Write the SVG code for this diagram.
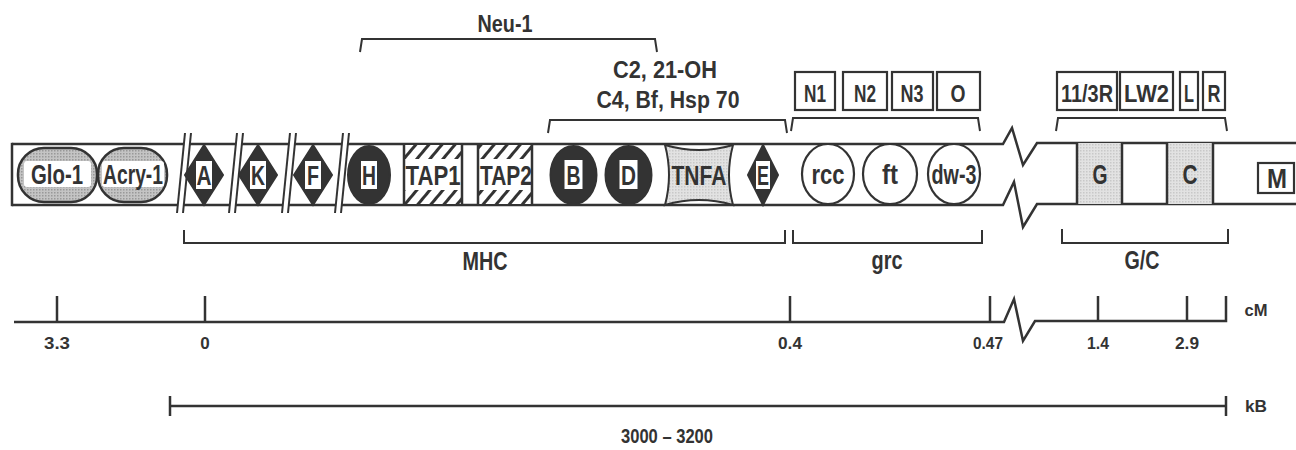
<svg xmlns="http://www.w3.org/2000/svg" width="1296" height="450" viewBox="0 0 1296 450">
<defs>
<pattern id="hatch" width="10" height="10" patternUnits="userSpaceOnUse" patternTransform="rotate(40)">
<rect width="10" height="10" fill="#fff"/>
<rect x="0" y="0" width="3" height="10" fill="#333"/>
</pattern>
<pattern id="dots" width="3" height="3" patternUnits="userSpaceOnUse">
<rect width="3" height="3" fill="#c4c4c4"/>
<rect x="0" y="0" width="1.5" height="1.5" fill="#999"/>
</pattern>
<pattern id="ldots" width="3" height="3" patternUnits="userSpaceOnUse">
<rect width="3" height="3" fill="#e2e2e2"/>
<rect x="0" y="0" width="1.5" height="1.5" fill="#c8c8c8"/>
</pattern>
</defs>
<style>
text{font-family:"Liberation Sans",Arial,sans-serif;font-weight:bold;fill:#333;text-anchor:middle}
.nl{font-size:28px}
.bl{font-size:24px}
.ul{font-size:23px}
.sl{font-size:17px}
.ln{fill:none;stroke:#333;stroke-width:2.5;stroke-linejoin:miter}
.br{fill:none;stroke:#333;stroke-width:2}
.dk{fill:#333;stroke:#333;stroke-width:2}
.wb{fill:#fff;stroke:none}
.ob{fill:#fff;stroke:#333;stroke-width:2.2}
</style>
<rect width="1296" height="450" fill="#fff"/>

<g id="chromosome">
<path class="ln" d="M12,144 L1003,144 L1012,128 L1023,165 L1037,143 L1296,143"/>
<path class="ln" d="M12,205 L1003,205 L1014,182 L1023,227 L1037,204 L1296,204"/>
<line class="ln" x1="12" y1="142.8" x2="12" y2="206.2"/>
</g>

<g id="glo1">
<rect x="18" y="148" width="79" height="54" rx="26" fill="url(#dots)" stroke="#333" stroke-width="2.5"/>
<rect class="wb" x="24" y="161" width="67" height="26" rx="3"/>
<text class="nl" x="57" y="184" textLength="52" lengthAdjust="spacingAndGlyphs">Glo-1</text>
</g>
<g id="acry1">
<rect x="98" y="148" width="69" height="54" rx="26" fill="url(#dots)" stroke="#333" stroke-width="2.5"/>
<rect class="wb" x="102" y="161" width="62" height="26" rx="3"/>
<text class="nl" x="133" y="184" textLength="60" lengthAdjust="spacingAndGlyphs">Acry-1</text>
</g>

<g id="breaks">
<polygon class="wb" points="177,213 185,133 191,133 183,213"/>
<line class="br" x1="177" y1="213" x2="185" y2="133"/>
<line class="br" x1="183" y1="213" x2="191" y2="133"/>
<polygon class="wb" points="229,213 237,133 243,133 235,213"/>
<line class="br" x1="229" y1="213" x2="237" y2="133"/>
<line class="br" x1="235" y1="213" x2="243" y2="133"/>
<polygon class="wb" points="282,213 290,133 296,133 288,213"/>
<line class="br" x1="282" y1="213" x2="290" y2="133"/>
<line class="br" x1="288" y1="213" x2="296" y2="133"/>
<polygon class="wb" points="335,213 343,133 349,133 341,213"/>
<line class="br" x1="335" y1="213" x2="343" y2="133"/>
<line class="br" x1="341" y1="213" x2="349" y2="133"/>
</g>

<g id="nodeA">
<polygon class="dk" points="204,145 223,175 204,205 185,175"/>
<rect class="wb" x="196" y="161" width="16" height="28"/>
<text class="nl" x="204" y="185" textLength="15" lengthAdjust="spacingAndGlyphs">A</text>
</g>
<g id="nodeK">
<polygon class="dk" points="258,145 277,175 258,205 239,175"/>
<rect class="wb" x="250" y="161" width="16" height="28"/>
<text class="nl" x="258" y="185" textLength="14" lengthAdjust="spacingAndGlyphs">K</text>
</g>
<g id="nodeF">
<polygon class="dk" points="313,145 332,175 313,205 294,175"/>
<rect class="wb" x="305" y="161" width="16" height="28"/>
<text class="nl" x="313" y="185" textLength="12" lengthAdjust="spacingAndGlyphs">F</text>
</g>
<g id="nodeH">
<ellipse class="dk" cx="369" cy="175" rx="21" ry="29"/>
<rect class="wb" x="361" y="161" width="16" height="28"/>
<text class="nl" x="369" y="185" textLength="14" lengthAdjust="spacingAndGlyphs">H</text>
</g>

<g id="tap1">
<rect x="404" y="145" width="58" height="59" fill="url(#hatch)"/>
<rect class="wb" x="404" y="159" width="58" height="31"/>
<line class="ln" x1="404" y1="144" x2="404" y2="205"/>
<line class="ln" x1="462" y1="144" x2="462" y2="205"/>
<text class="nl" x="433" y="185" textLength="55" lengthAdjust="spacingAndGlyphs">TAP1</text>
</g>
<g id="tap2">
<rect x="478" y="145" width="54" height="59" fill="url(#hatch)"/>
<rect class="wb" x="478" y="159" width="54" height="31"/>
<line class="ln" x1="478" y1="144" x2="478" y2="205"/>
<line class="ln" x1="532" y1="144" x2="532" y2="205"/>
<text class="nl" x="506" y="185" textLength="52" lengthAdjust="spacingAndGlyphs">TAP2</text>
</g>

<g id="nodeB">
<ellipse class="dk" cx="573.5" cy="175" rx="23" ry="29"/>
<rect class="wb" x="564.5" y="160" width="18" height="29"/>
<text class="nl" x="573.5" y="185" textLength="14" lengthAdjust="spacingAndGlyphs">B</text>
</g>
<g id="nodeD">
<ellipse class="dk" cx="628.5" cy="175" rx="23" ry="29"/>
<rect class="wb" x="619.5" y="160" width="18" height="29"/>
<text class="nl" x="628.5" y="185" textLength="15" lengthAdjust="spacingAndGlyphs">D</text>
</g>

<g id="tnfa">
<path d="M665,145 Q699,155 733,145 Q725,175 733,205 Q699,195 665,205 Q673,175 665,145 Z" fill="url(#ldots)" stroke="#333" stroke-width="2"/>
<text class="nl" x="699" y="185" textLength="55" lengthAdjust="spacingAndGlyphs">TNFA</text>
</g>

<g id="nodeE">
<polygon class="dk" points="763,145 778,175 763,205 748,175"/>
<rect class="wb" x="756" y="161" width="14" height="28"/>
<text class="nl" x="763" y="185" textLength="12" lengthAdjust="spacingAndGlyphs">E</text>
</g>

<g id="rcc">
<ellipse class="ob" cx="828" cy="174" rx="26" ry="30"/>
<text class="nl" x="828" y="184" textLength="33" lengthAdjust="spacingAndGlyphs">rcc</text>
</g>
<g id="ft">
<ellipse class="ob" cx="890" cy="174" rx="27" ry="30"/>
<text class="nl" x="890" y="184" textLength="16" lengthAdjust="spacingAndGlyphs">ft</text>
</g>
<g id="dw3">
<ellipse class="ob" cx="954" cy="174" rx="26" ry="30"/>
<text class="nl" x="954" y="184" textLength="45" lengthAdjust="spacingAndGlyphs">dw-3</text>
</g>

<g id="nodeG">
<rect x="1077" y="143" width="45" height="61" fill="url(#ldots)"/>
<line class="ln" x1="1077" y1="143" x2="1077" y2="204"/>
<line class="ln" x1="1122" y1="143" x2="1122" y2="204"/>
<text class="nl" x="1100" y="184" textLength="15" lengthAdjust="spacingAndGlyphs">G</text>
</g>
<g id="nodeC">
<rect x="1167" y="143" width="46" height="61" fill="url(#ldots)"/>
<line class="ln" x1="1167" y1="143" x2="1167" y2="204"/>
<line class="ln" x1="1213" y1="143" x2="1213" y2="204"/>
<text class="nl" x="1190" y="184" textLength="15" lengthAdjust="spacingAndGlyphs">C</text>
</g>
<g id="nodeM">
<rect class="ob" x="1258" y="163" width="36" height="30"/>
<text class="nl" x="1277" y="188" textLength="20" lengthAdjust="spacingAndGlyphs">M</text>
</g>

<g id="boxN1"><rect class="ob" x="795" y="72" width="40" height="38"/><text class="bl" x="815" y="102" textLength="22" lengthAdjust="spacingAndGlyphs">N1</text></g>
<g id="boxN2"><rect class="ob" x="843" y="72" width="44" height="38"/><text class="bl" x="865" y="102" textLength="22" lengthAdjust="spacingAndGlyphs">N2</text></g>
<g id="boxN3"><rect class="ob" x="892" y="72" width="41" height="38"/><text class="bl" x="912" y="102" textLength="23" lengthAdjust="spacingAndGlyphs">N3</text></g>
<g id="boxO"><rect class="ob" x="937" y="72" width="43" height="38"/><text class="bl" x="958" y="102" textLength="15" lengthAdjust="spacingAndGlyphs">O</text></g>
<g id="box113R"><rect class="ob" x="1057" y="72" width="60" height="38"/><text class="bl" x="1087" y="102" textLength="52" lengthAdjust="spacingAndGlyphs">11/3R</text></g>
<g id="boxLW2"><rect class="ob" x="1120" y="72" width="53" height="38"/><text class="bl" x="1146.5" y="102" textLength="45" lengthAdjust="spacingAndGlyphs">LW2</text></g>
<g id="boxL"><rect class="ob" x="1180" y="72" width="18" height="38"/><text class="bl" x="1189" y="102" textLength="10" lengthAdjust="spacingAndGlyphs">L</text></g>
<g id="boxR"><rect class="ob" x="1203" y="72" width="22" height="38"/><text class="bl" x="1214" y="102" textLength="13" lengthAdjust="spacingAndGlyphs">R</text></g>

<g id="connectors">
<path class="br" d="M360,52 L362,39 L655,39 L657,52"/>
<path class="br" d="M548,133 L550,120 L785,120 L787,133"/>
<path class="br" d="M791,131 L793,118 L978,118 L980,131"/>
<path class="br" d="M1056,131 L1058,118 L1225,118 L1227,131"/>
<path class="br" d="M184,230 L184,243 L785,243 L785,230"/>
<path class="br" d="M793,230 L793,243 L982,243 L982,230"/>
<path class="br" d="M1062,229 L1062,243 L1228,243 L1228,229"/>
</g>

<g id="labels">
<text class="ul" x="505" y="32" textLength="55" lengthAdjust="spacingAndGlyphs">Neu-1</text>
<text class="ul" x="665" y="78" textLength="104" lengthAdjust="spacingAndGlyphs">C2, 21-OH</text>
<text class="ul" x="668" y="108" textLength="143" lengthAdjust="spacingAndGlyphs">C4, Bf, Hsp 70</text>
<text class="ul" x="485" y="270" style="font-size:25px" textLength="45" lengthAdjust="spacingAndGlyphs">MHC</text>
<text class="ul" x="887" y="269" style="font-size:25px" textLength="31" lengthAdjust="spacingAndGlyphs">grc</text>
<text class="ul" x="1142" y="269" style="font-size:25px" textLength="35" lengthAdjust="spacingAndGlyphs">G/C</text>
</g>

<g id="scale-cM">
<path class="ln" d="M14,322 L1004,322 L1014,299 L1023,341 L1035,321 L1226,321 L1226,296"/>
<line class="ln" x1="57" y1="296" x2="57" y2="322"/>
<line class="ln" x1="205" y1="296" x2="205" y2="322"/>
<line class="ln" x1="790" y1="296" x2="790" y2="322"/>
<line class="ln" x1="990" y1="296" x2="990" y2="322"/>
<line class="ln" x1="1098" y1="296" x2="1098" y2="321"/>
<line class="ln" x1="1187" y1="296" x2="1187" y2="321"/>
<text class="sl" x="57" y="349" textLength="26" lengthAdjust="spacingAndGlyphs">3.3</text>
<text class="sl" x="205" y="349">0</text>
<text class="sl" x="790" y="349" textLength="24" lengthAdjust="spacingAndGlyphs">0.4</text>
<text class="sl" x="988" y="349" textLength="30" lengthAdjust="spacingAndGlyphs">0.47</text>
<text class="sl" x="1098" y="349" textLength="22" lengthAdjust="spacingAndGlyphs">1.4</text>
<text class="sl" x="1187" y="349" textLength="24" lengthAdjust="spacingAndGlyphs">2.9</text>
<text class="sl" x="1256" y="316" textLength="23" lengthAdjust="spacingAndGlyphs">cM</text>
</g>
<g id="scale-kB">
<line class="ln" x1="170" y1="406" x2="1226" y2="406"/>
<line class="ln" x1="170" y1="396" x2="170" y2="416"/>
<line class="ln" x1="1226" y1="396" x2="1226" y2="416"/>
<text class="sl" x="1256" y="412" textLength="22" lengthAdjust="spacingAndGlyphs">kB</text>
<text class="ul" x="667" y="443" style="font-size:20px" textLength="92" lengthAdjust="spacingAndGlyphs">3000 – 3200</text>
</g>
</svg>
